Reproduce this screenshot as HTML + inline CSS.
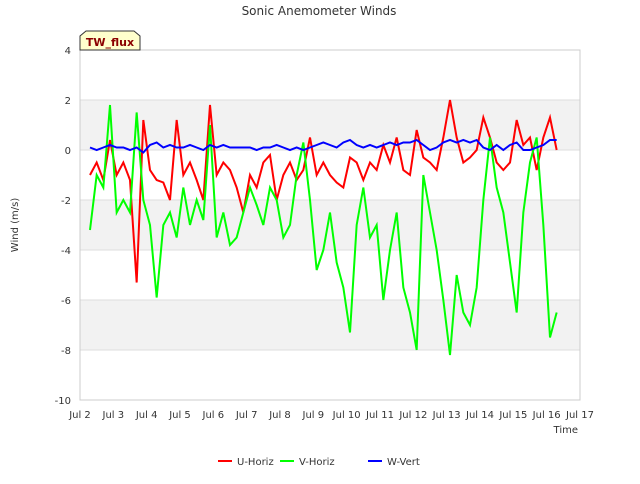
<!DOCTYPE html>
<html><head><meta charset="utf-8"><style>
body{margin:0;background:#fff;font-family:"DejaVu Sans","Liberation Sans",sans-serif}
</style></head><body>
<svg id="chart" width="640" height="480" xmlns="http://www.w3.org/2000/svg" font-family="DejaVu Sans, Liberation Sans, sans-serif">
<text x="319" y="15" text-anchor="middle" font-size="12" fill="#333">Sonic Anemometer Winds</text>
<g id="bands"></g><g id="grid"></g>
<rect x="80" y="50" width="500" height="350" fill="none" stroke="#ccc"/>
<g id="ticks"></g><g id="series"></g>
<text transform="translate(18,225) rotate(-90)" text-anchor="middle" font-size="10" fill="#333">Wind (m/s)</text>
<text x="578" y="433" text-anchor="end" font-size="10" fill="#333">Time</text>
<g>
<path d="M80,50 L80,36 L86,31 L134,31 L140,36 L140,50 Z" fill="#ffffcc" stroke="#333"/>
<text x="110" y="46" text-anchor="middle" font-size="11" font-weight="bold" fill="#8b0000">TW_flux</text>
</g>
<g font-size="10" fill="#333">
<line x1="218" y1="461" x2="232" y2="461" stroke="#f00" stroke-width="2"/><text x="237" y="465">U-Horiz</text>
<line x1="280" y1="461" x2="294" y2="461" stroke="#0f0" stroke-width="2"/><text x="299" y="465">V-Horiz</text>
<line x1="368" y1="461" x2="382" y2="461" stroke="#00f" stroke-width="2"/><text x="387" y="465">W-Vert</text>
</g>
</svg>
<script>
const days=[2.3,2.5,2.7,2.9,3.1,3.3,3.5,3.7,3.9,4.1,4.3,4.5,4.7,4.9,5.1,5.3,5.5,5.7,5.9,6.1,6.3,6.5,6.7,6.9,7.1,7.3,7.5,7.7,7.9,8.1,8.3,8.5,8.7,8.9,9.1,9.3,9.5,9.7,9.9,10.1,10.3,10.5,10.7,10.9,11.1,11.3,11.5,11.7,11.9,12.1,12.3,12.5,12.7,12.9,13.1,13.3,13.5,13.7,13.9,14.1,14.3,14.5,14.7,14.9,15.1,15.3,15.5,15.7,15.9,16.1,16.3];
const uHoriz=[-1.0,-0.5,-1.2,0.4,-1.0,-0.5,-1.2,-5.3,1.2,-0.8,-1.2,-1.3,-2.0,1.2,-1.0,-0.5,-1.2,-2.0,1.8,-1.0,-0.5,-0.8,-1.5,-2.5,-1.0,-1.5,-0.5,-0.2,-2.0,-1.0,-0.5,-1.2,-0.8,0.5,-1.0,-0.5,-1.0,-1.3,-1.5,-0.3,-0.5,-1.2,-0.5,-0.8,0.2,-0.5,0.5,-0.8,-1.0,0.8,-0.3,-0.5,-0.8,0.5,2.0,0.5,-0.5,-0.3,0.0,1.3,0.5,-0.5,-0.8,-0.5,1.2,0.2,0.5,-0.8,0.5,1.3,0.0];
const vHoriz=[-3.2,-1.0,-1.5,1.8,-2.5,-2.0,-2.5,1.5,-2.0,-3.0,-5.9,-3.0,-2.5,-3.5,-1.5,-3.0,-2.0,-2.8,1.0,-3.5,-2.5,-3.8,-3.5,-2.5,-1.5,-2.2,-3.0,-1.5,-2.0,-3.5,-3.0,-1.0,0.3,-2.0,-4.8,-4.0,-2.5,-4.5,-5.5,-7.3,-3.0,-1.5,-3.5,-3.0,-6.0,-4.0,-2.5,-5.5,-6.5,-8.0,-1.0,-2.5,-4.0,-6.0,-8.2,-5.0,-6.5,-7.0,-5.5,-2.0,0.5,-1.5,-2.5,-4.5,-6.5,-2.5,-0.5,0.5,-3.0,-7.5,-6.5];
const wVert=[0.1,0.0,0.1,0.2,0.1,0.1,0.0,0.1,-0.1,0.2,0.3,0.1,0.2,0.1,0.1,0.2,0.1,0.0,0.2,0.1,0.2,0.1,0.1,0.1,0.1,0.0,0.1,0.1,0.2,0.1,0.0,0.1,0.0,0.1,0.2,0.3,0.2,0.1,0.3,0.4,0.2,0.1,0.2,0.1,0.2,0.3,0.2,0.3,0.3,0.4,0.2,0.0,0.1,0.3,0.4,0.3,0.4,0.3,0.4,0.1,0.0,0.2,0.0,0.2,0.3,0.0,0.0,0.1,0.2,0.4,0.4];
const yTicks=[4,2,0,-2,-4,-6,-8,-10];
const xTickLabels=["Jul 2","Jul 3","Jul 4","Jul 5","Jul 6","Jul 7","Jul 8","Jul 9","Jul 10","Jul 11","Jul 12","Jul 13","Jul 14","Jul 15","Jul 16","Jul 17"];
const xs=d=>80+(d-2)*500/15, ys=v=>50+(4-v)*25;
const NS="http://www.w3.org/2000/svg";
function mk(tag,parent,attrs){const e=document.createElementNS(NS,tag);for(const k in attrs)e.setAttribute(k,attrs[k]);document.getElementById(parent).appendChild(e);return e;}
for(let v=2;v>-10;v-=4){const b=mk('rect','bands',{x:80,y:ys(v),width:500,height:50,fill:'#f2f2f2'});

}
yTicks.forEach(v=>{const l=mk('line','grid',{x1:80,x2:580,y1:ys(v),y2:ys(v),stroke:'#ddd'});


const t=mk('text','ticks',{x:71,y:ys(v)+4,'text-anchor':'end','font-size':'10',fill:'#333'});t.textContent=v;

});
xTickLabels.forEach((s,i)=>{const t=mk('text','ticks',{x:xs(2+i),y:418,'text-anchor':'middle','font-size':'10',fill:'#333'});t.textContent=s;

});
[[uHoriz,'#f00','u-horiz-line'],[vHoriz,'#0f0','v-horiz-line'],[wVert,'#00f','w-vert-line']].forEach(([arr,c,n])=>{
const p=mk('polyline','series',{points:arr.map((v,i)=>xs(days[i])+','+ys(v)).join(' '),fill:'none',stroke:c,'stroke-width':2});

});
</script>
</body></html>
